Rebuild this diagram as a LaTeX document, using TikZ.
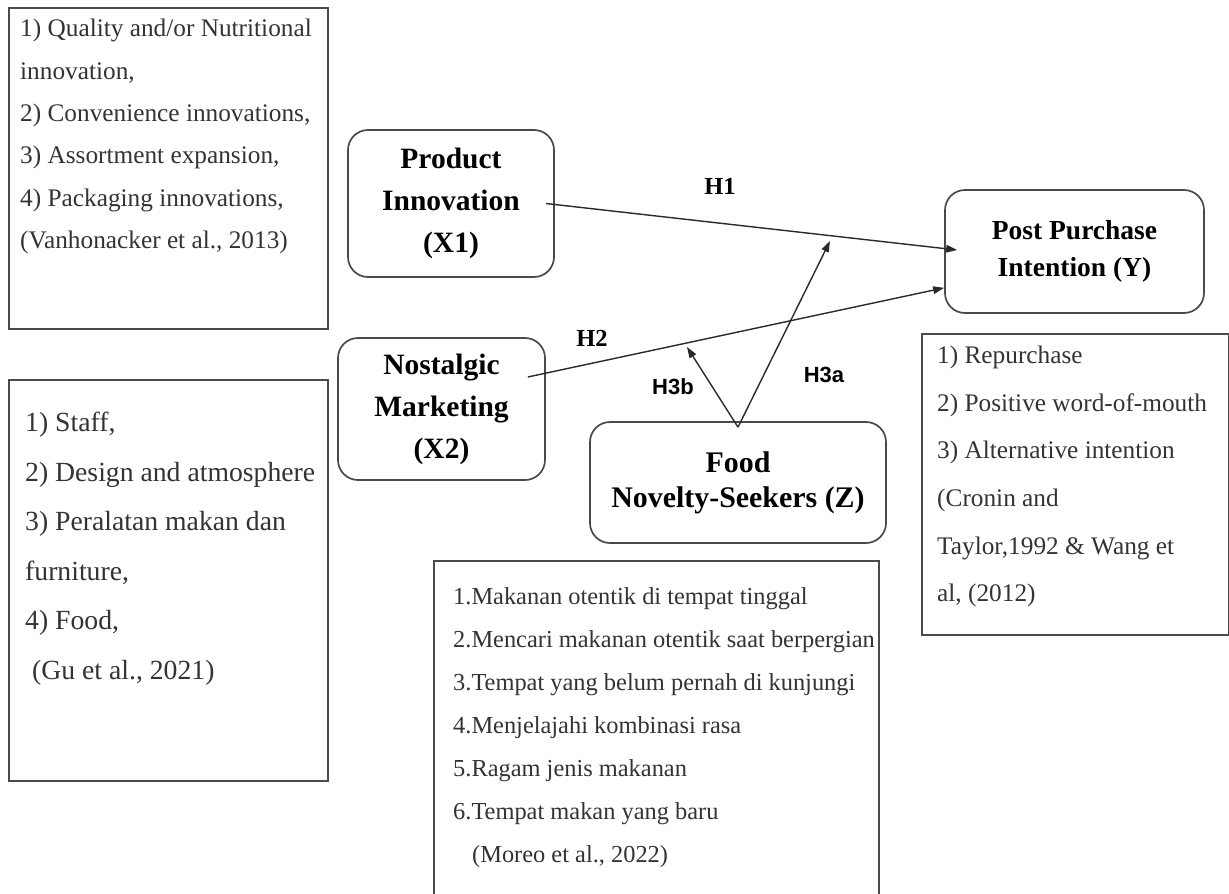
\documentclass[tikz,border=0pt]{standalone}
\usepackage{fontspec}
\setmainfont{Liberation Serif}
\newfontfamily\arialf{Liberation Sans}
\usetikzlibrary{arrows.meta}
\definecolor{boxgray}{HTML}{4A4A4A}
\definecolor{textgray}{HTML}{333333}
\definecolor{linegray}{HTML}{2A2A2A}
\begin{document}
\begin{tikzpicture}[x=1pt,y=-1pt,
  txtbox/.style={draw=boxgray, line width=1.7pt, anchor=north west, inner sep=0pt},
  bodytext/.style={inner sep=0pt, anchor=north west, align=left, text=textgray},
  nodebox/.style={draw=boxgray, line width=1.7pt, rounded corners=20pt, align=center, inner sep=0pt, text=black},
  hlab/.style={inner sep=0pt, text=black, font=\bfseries\fontsize{24.5}{28}\selectfont},
  hlabs/.style={inner sep=0pt, text=black, font=\arialf\bfseries\fontsize{22}{26}\selectfont},
  conn/.style={draw=linegray, line width=1.4pt, -{Triangle[length=11pt,width=7.5pt]}}
]
\useasboundingbox (0,0) rectangle (1229,894);
\fill[white] (0,0) rectangle (1229,894);

% indicator boxes
\node[txtbox, minimum width=319pt, minimum height=321pt] (b1) at (8,7) {};
\node[bodytext, font=\fontsize{25.3}{42.4}\selectfont] (t1) at (20,19)
  {1) Quality and/or Nutritional\\innovation,\\2) Convenience innovations,\\3) Assortment expansion,\\4) Packaging innovations,\\(Vanhonacker et al., 2013)};

\node[txtbox, minimum width=319pt, minimum height=401pt] (b2) at (8,379) {};
\node[bodytext, font=\fontsize{27.7}{49.5}\selectfont] (t2) at (25,412)
  {1) Staff,\\2) Design and atmosphere\\3) Peralatan makan dan\\furniture,\\4) Food,\\\hspace*{7pt}(Gu et al., 2021)};

\node[txtbox, minimum width=307pt, minimum height=301pt] (b3) at (921,333) {};
\node[bodytext, font=\fontsize{25.3}{47.6}\selectfont] (t3) at (937,346)
  {1) Repurchase\\2) Positive word-of-mouth\\3) Alternative intention\\(Cronin and\\Taylor,1992 \& Wang et\\al, (2012)};

\node[txtbox, minimum width=445pt, minimum height=360pt] (b4) at (433,560) {};
\node[bodytext, font=\fontsize{24.4}{43}\selectfont] (t4) at (453,587)
  {1.Makanan otentik di tempat tinggal\\2.Mencari makanan otentik saat berpergian\\3.Tempat yang belum pernah di kunjungi\\4.Menjelajahi kombinasi rasa\\5.Ragam jenis makanan\\6.Tempat makan yang baru\\\hspace*{19pt}(Moreo et al., 2022)};

% construct nodes
\node[nodebox, minimum width=206pt, minimum height=147pt, font=\bfseries\fontsize{29.5}{42}\selectfont] (pi) at (451,203.5) {Product\\Innovation\\(X1)};
\node[nodebox, minimum width=207pt, minimum height=142pt, font=\bfseries\fontsize{29.5}{42}\selectfont] (nm) at (441.5,409) {Nostalgic\\Marketing\\(X2)};
\node[nodebox, minimum width=259pt, minimum height=123pt, font=\bfseries\fontsize{27.5}{37}\selectfont] (pp) at (1074.5,251.5) {Post Purchase\\Intention (Y)};
\node[nodebox, minimum width=296pt, minimum height=121pt, font=\bfseries\fontsize{29.9}{35}\selectfont] (fn) at (738,482.5) {Food\\Novelty-Seekers (Z)};

% hypothesis labels
\node[hlab] (lh1) at (720,186) {H1};
\node[hlab] (lh2) at (592,338) {H2};
\node[hlabs] (lh3b) at (673,387) {H3b};
\node[hlabs] (lh3a) at (824,375) {H3a};

% moderation targets
\coordinate (m1) at (830,241);
\coordinate (m2) at (687,347);

% connectors
\draw[conn] ([xshift=-9pt]pi.east) -- ([xshift=13pt,yshift=1.5pt]pp.west);
\draw[conn] ([xshift=-18pt,yshift=32pt]nm.east) -- ([yshift=26pt]pp.south west);
\draw[conn] ([yshift=-6pt]fn.north) -- (m1);
\draw[conn] ([yshift=-6pt]fn.north) -- (m2);
\end{tikzpicture}
\end{document}
